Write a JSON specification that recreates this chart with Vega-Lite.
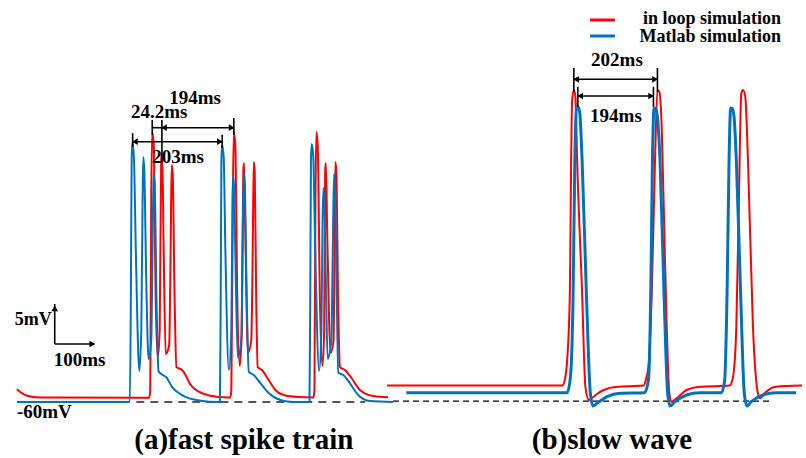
{
  "$schema": "https://vega.github.io/schema/vega-lite/v6.json",
  "width": 806,
  "height": 458,
  "padding": 0,
  "autosize": {"type": "fit", "contains": "padding"},
  "background": "white",
  "config": {
    "view": {"stroke": null},
    "text": {"font": "Liberation Serif", "fontWeight": "bold", "color": "black", "baseline": "middle"}
  },
  "datasets": {
    "a_red": [
      {"t":42.5,"v":-58.4},{"t":55,"v":-58.9},{"t":70,"v":-59.25},{"t":100,"v":-59.44},{"t":375,"v":-59.46},{"t":377.5,"v":-58.5},{"t":380,"v":-34.75},{"t":382.5,"v":-26.25},{"t":386.25,"v":-27.88},{"t":391.25,"v":-47.25},{"t":396.25,"v":-54.5},{"t":401.25,"v":-51},{"t":405,"v":-29.75},{"t":407.5,"v":-28.75},{"t":411.25,"v":-41},{"t":416.25,"v":-54},{"t":425,"v":-52.88},{"t":428.75,"v":-41},{"t":431.25,"v":-30.38},{"t":433.75,"v":-31.25},{"t":438.75,"v":-47.25},{"t":443.25,"v":-55.63},{"t":457.5,"v":-56},{"t":467.5,"v":-56.75},{"t":477.5,"v":-57.75},{"t":500,"v":-58.71},{"t":532.5,"v":-59.25},{"t":562.5,"v":-59.41},{"t":578.75,"v":-59.44},{"t":581.25,"v":-58.5},{"t":585,"v":-34.75},{"t":587.5,"v":-26.25},{"t":591.25,"v":-27.88},{"t":596.25,"v":-47.25},{"t":602.5,"v":-55.5},{"t":607.5,"v":-51},{"t":611.25,"v":-31},{"t":613.25,"v":-30.13},{"t":616.25,"v":-38.5},{"t":623.25,"v":-53.88},{"t":631.25,"v":-52.25},{"t":635,"v":-41},{"t":637.5,"v":-30},{"t":640,"v":-31.25},{"t":643.75,"v":-47.25},{"t":647.5,"v":-55.63},{"t":658.25,"v":-56},{"t":675,"v":-57.25},{"t":691.75,"v":-58.5},{"t":712.5,"v":-59.13},{"t":750,"v":-59.38},{"t":787.5,"v":-59.44},{"t":790,"v":-58.5},{"t":792.5,"v":-34.75},{"t":795,"v":-26.25},{"t":798.25,"v":-27.88},{"t":803.75,"v":-47.25},{"t":810,"v":-55.5},{"t":814.5,"v":-51},{"t":817,"v":-31},{"t":818.75,"v":-30.13},{"t":822,"v":-38.5},{"t":830.75,"v":-53.88},{"t":838.25,"v":-52.25},{"t":840.5,"v":-41},{"t":842.5,"v":-30},{"t":845,"v":-31.25},{"t":849.5,"v":-47.25},{"t":854.25,"v":-55.63},{"t":866.75,"v":-56},{"t":883.25,"v":-57},{"t":904.25,"v":-58.5},{"t":937.5,"v":-59.25},{"t":975,"v":-59.41}
    ],
    "a_blue": [
      {"t":42.5,"v":-60},{"t":326.25,"v":-60},{"t":328.75,"v":-47.25},{"t":330.75,"v":-29.75},{"t":332.5,"v":-27.63},{"t":336.25,"v":-29.13},{"t":341.25,"v":-41},{"t":350,"v":-56.13},{"t":355,"v":-51},{"t":358.25,"v":-34.75},{"t":360,"v":-29.38},{"t":362.5,"v":-31},{"t":367.5,"v":-44.75},{"t":373.25,"v":-54.63},{"t":380,"v":-52.25},{"t":383.75,"v":-38.5},{"t":386.25,"v":-31.38},{"t":388.75,"v":-32.88},{"t":393.25,"v":-47.25},{"t":398.25,"v":-56.13},{"t":405,"v":-56.5},{"t":417.5,"v":-56.88},{"t":432.5,"v":-58.13},{"t":457.5,"v":-59.13},{"t":500,"v":-59.81},{"t":550,"v":-60},{"t":552.5,"v":-60},{"t":554.5,"v":-47.25},{"t":556.25,"v":-29.75},{"t":558.25,"v":-27.88},{"t":562,"v":-29.38},{"t":566.25,"v":-41},{"t":575,"v":-56},{"t":581.25,"v":-51},{"t":584.25,"v":-34.75},{"t":585.75,"v":-31.63},{"t":588.25,"v":-33.5},{"t":592.5,"v":-44.75},{"t":597.5,"v":-54.5},{"t":606.25,"v":-52.25},{"t":610,"v":-38.5},{"t":612.5,"v":-31.38},{"t":615,"v":-32.88},{"t":620,"v":-47.25},{"t":625,"v":-56.2},{"t":637.5,"v":-56.63},{"t":654.25,"v":-57.63},{"t":675,"v":-58.88},{"t":704.25,"v":-59.75},{"t":737.5,"v":-60},{"t":777.5,"v":-60},{"t":779.5,"v":-47.25},{"t":781.25,"v":-29.75},{"t":783.25,"v":-27.75},{"t":787,"v":-29.25},{"t":792,"v":-41},{"t":801.75,"v":-56.13},{"t":807.5,"v":-51},{"t":810.5,"v":-37.25},{"t":812.5,"v":-33.25},{"t":815,"v":-34.75},{"t":818.75,"v":-44.75},{"t":823.25,"v":-54.63},{"t":832.5,"v":-52.25},{"t":836.75,"v":-38.5},{"t":839.25,"v":-31.5},{"t":841.75,"v":-33},{"t":846.25,"v":-47.25},{"t":850,"v":-56.34},{"t":862.5,"v":-56.63},{"t":879.25,"v":-57.66},{"t":900,"v":-59.13},{"t":929.25,"v":-59.88},{"t":987.5,"v":-60}
    ],
    "b_red": [
      {"t":972.5,"v":-57.95},{"t":1412.5,"v":-57.95},{"t":1420,"v":-57},{"t":1425,"v":-54.75},{"t":1431.75,"v":-46.38},{"t":1435,"v":-29.75},{"t":1437.5,"v":-22.25},{"t":1441.75,"v":-21},{"t":1445.75,"v":-21.84},{"t":1450,"v":-29.75},{"t":1462.5,"v":-46.38},{"t":1470.75,"v":-58.09},{"t":1479.25,"v":-59.75},{"t":1487.5,"v":-59.5},{"t":1500,"v":-59},{"t":1516.75,"v":-58.5},{"t":1550,"v":-58.09},{"t":1616.75,"v":-57.95},{"t":1622.5,"v":-57.25},{"t":1629.25,"v":-55.59},{"t":1637.5,"v":-46.38},{"t":1645.75,"v":-29.75},{"t":1651.75,"v":-21},{"t":1656.75,"v":-21.21},{"t":1662.5,"v":-25.59},{"t":1670.75,"v":-42.25},{"t":1681.75,"v":-58.91},{"t":1687.5,"v":-59.96},{"t":1700,"v":-59.54},{"t":1725,"v":-58.5},{"t":1758.25,"v":-58.09},{"t":1833.25,"v":-57.95},{"t":1841.75,"v":-56.84},{"t":1850,"v":-50.59},{"t":1856.75,"v":-33.88},{"t":1862.5,"v":-21.41},{"t":1866.75,"v":-21},{"t":1872.5,"v":-21.84},{"t":1879.25,"v":-29.75},{"t":1891.75,"v":-50.59},{"t":1904.25,"v":-58.91},{"t":1910,"v":-59.54},{"t":1920.75,"v":-58.91},{"t":1950,"v":-58.09},{"t":2015,"v":-57.95}
    ],
    "b_blue": [
      {"t":1020.75,"v":-58.84},{"t":1425,"v":-58.84},{"t":1433.25,"v":-56.84},{"t":1440,"v":-46.38},{"t":1444.25,"v":-29.75},{"t":1448.25,"v":-23.29},{"t":1452.5,"v":-23.09},{"t":1456.75,"v":-23.91},{"t":1462.5,"v":-29.75},{"t":1473.25,"v":-46.38},{"t":1483.25,"v":-58.91},{"t":1490,"v":-60.5},{"t":1500,"v":-60.16},{"t":1525,"v":-59.34},{"t":1558.25,"v":-58.91},{"t":1619.25,"v":-58.84},{"t":1629.25,"v":-57.25},{"t":1635,"v":-46.38},{"t":1639.25,"v":-29.75},{"t":1643.25,"v":-23.29},{"t":1647.5,"v":-23.29},{"t":1651.75,"v":-24.34},{"t":1658.25,"v":-29.75},{"t":1668.25,"v":-46.38},{"t":1677.5,"v":-58.91},{"t":1683.25,"v":-60.5},{"t":1695.75,"v":-59.96},{"t":1725,"v":-59.13},{"t":1758.25,"v":-58.84},{"t":1812.5,"v":-58.84},{"t":1820.75,"v":-57.25},{"t":1826.75,"v":-46.38},{"t":1831.75,"v":-29.75},{"t":1835.75,"v":-23.29},{"t":1840,"v":-23.29},{"t":1844.25,"v":-24.34},{"t":1850,"v":-29.75},{"t":1860.75,"v":-46.38},{"t":1870,"v":-58.91},{"t":1876.75,"v":-60.5},{"t":1887.5,"v":-59.96},{"t":1916.75,"v":-59.13},{"t":1950,"v":-58.84},{"t":2000,"v":-58.84}
    ],
    "hbars": [
      {"name":"24.2ms","t":382.5,"t2":406.75,"v":-25.71},
      {"name":"194ms a","t":406.75,"t2":587.5,"v":-25.71},
      {"name":"203ms","t":333.25,"t2":558.25,"v":-27.46},
      {"name":"202ms","t":1441.75,"t2":1651.75,"v":-19.66},
      {"name":"194ms b","t":1451.75,"t2":1641.75,"v":-21.75},
      {"name":"scale 100ms","t":137.5,"t2":237.5,"v":-52.75}
    ],
    "vbars": [
      {"t":382.5,"v":-24.75,"v2":-26.6},
      {"t":406.75,"v":-24.75,"v2":-30.1},
      {"t":587.5,"v":-24.5,"v2":-26.6},
      {"t":333.25,"v":-26.4,"v2":-28.1},
      {"t":558.25,"v":-26.6,"v2":-28.25},
      {"t":1441.75,"v":-18.25,"v2":-21.25},
      {"t":1651.75,"v":-18.25,"v2":-21.25},
      {"t":1451.75,"v":-20.6,"v2":-23.1},
      {"t":1641.75,"v":-20.6,"v2":-23.1},
      {"t":137.5,"v":-52.75,"v2":-47.75}
    ],
    "heads": [
      {"t":412,"v":-25.71,"dir":"left"},
      {"t":582,"v":-25.71,"dir":"right"},
      {"t":339,"v":-27.46,"dir":"left"},
      {"t":552.5,"v":-27.46,"dir":"right"},
      {"t":1447.5,"v":-19.66,"dir":"left"},
      {"t":1646,"v":-19.66,"dir":"right"},
      {"t":1457.5,"v":-21.75,"dir":"left"},
      {"t":1636,"v":-21.75,"dir":"right"},
      {"t":137.5,"v":-48.3,"dir":"up"},
      {"t":232,"v":-52.75,"dir":"right"}
    ],
    "labels": [
      {"label":"194ms","t":490,"v":-22.06,"kind":"annot"},
      {"label":"24.2ms","t":400,"v":-23.69,"kind":"annot"},
      {"label":"203ms","t":447.5,"v":-29.38,"kind":"annot"},
      {"label":"202ms","t":1550,"v":-17.19,"kind":"annot"},
      {"label":"194ms","t":1547.5,"v":-24.31,"kind":"annot"},
      {"label":"100ms","t":200,"v":-54.75,"kind":"annot"},
      {"label":"5mV","t":130,"v":-49.75,"kind":"right"},
      {"label":"in loop simulation","t":1962.5,"v":-12.1,"kind":"right"},
      {"label":"Matlab simulation","t":1962.5,"v":-14.4,"kind":"right"},
      {"label":"-60mV","t":42.5,"v":-61.25,"kind":"left"},
      {"label":"(a)fast spike train","t":612.5,"v":-64.75,"kind":"title"},
      {"label":"(b)slow wave","t":1537.5,"v":-64.75,"kind":"title"}
    ],
    "legend": [
      {"series":"in loop simulation","t":1482.5,"t2":1545,"v":-12.25},
      {"series":"Matlab simulation","t":1482.5,"t2":1545,"v":-14.25}
    ]
  },
  "encoding": {
    "x": {"field": "t", "type": "quantitative", "scale": {"domain": [0, 2015], "nice": false, "zero": false}, "axis": null},
    "y": {"field": "v", "type": "quantitative", "scale": {"domain": [-67, -9.75], "nice": false, "zero": false}, "axis": null}
  },
  "layer": [
    {
      "data": {"values": [{"t": 342.5, "t2": 917.5, "v": -60}]},
      "mark": {"type": "rule", "color": "#555555", "strokeWidth": 2, "strokeDash": [8, 6]},
      "encoding": {"x2": {"field": "t2"}}
    },
    {
      "data": {"values": [{"t": 987.5, "t2": 1932.5, "v": -59.9}]},
      "mark": {"type": "rule", "color": "black", "strokeWidth": 1.2, "strokeDash": [6, 4]},
      "encoding": {"x2": {"field": "t2"}}
    },
    {
      "data": {"name": "a_red"},
      "mark": {"type": "line", "strokeWidth": 2, "interpolate": "monotone"},
      "encoding": {"color": {"datum": "in loop simulation", "type": "nominal", "scale": {"domain": ["in loop simulation", "Matlab simulation"], "range": ["#FF0000", "#0072BD"]}, "legend": null}}
    },
    {
      "data": {"name": "a_blue"},
      "mark": {"type": "line", "strokeWidth": 2, "interpolate": "monotone"},
      "encoding": {"color": {"datum": "Matlab simulation", "type": "nominal", "scale": {"domain": ["in loop simulation", "Matlab simulation"], "range": ["#FF0000", "#0072BD"]}, "legend": null}}
    },
    {
      "data": {"name": "b_red"},
      "mark": {"type": "line", "strokeWidth": 2, "interpolate": "monotone"},
      "encoding": {"color": {"datum": "in loop simulation", "type": "nominal", "scale": {"domain": ["in loop simulation", "Matlab simulation"], "range": ["#FF0000", "#0072BD"]}, "legend": null}}
    },
    {
      "data": {"name": "b_blue"},
      "mark": {"type": "line", "strokeWidth": 3, "interpolate": "monotone"},
      "encoding": {"color": {"datum": "Matlab simulation", "type": "nominal", "scale": {"domain": ["in loop simulation", "Matlab simulation"], "range": ["#FF0000", "#0072BD"]}, "legend": null}}
    },
    {
      "data": {"name": "legend"},
      "mark": {"type": "rule", "strokeWidth": 3},
      "encoding": {
        "x2": {"field": "t2"},
        "color": {"field": "series", "type": "nominal", "scale": {"domain": ["in loop simulation", "Matlab simulation"], "range": ["#FF0000", "#0072BD"]}, "legend": null}
      }
    },
    {
      "data": {"name": "hbars"},
      "mark": {"type": "rule", "color": "black", "strokeWidth": 1.6},
      "encoding": {"x2": {"field": "t2"}}
    },
    {
      "data": {"name": "vbars"},
      "mark": {"type": "rule", "color": "black", "strokeWidth": 1.6},
      "encoding": {"y2": {"field": "v2"}}
    },
    {
      "data": {"name": "heads"},
      "transform": [{"filter": "datum.dir == 'right'"}],
      "mark": {"type": "point", "shape": "triangle-right", "filled": true, "color": "black", "opacity": 1, "size": 45}
    },
    {
      "data": {"name": "heads"},
      "transform": [{"filter": "datum.dir == 'left'"}],
      "mark": {"type": "point", "shape": "triangle-left", "filled": true, "color": "black", "opacity": 1, "size": 45}
    },
    {
      "data": {"name": "heads"},
      "transform": [{"filter": "datum.dir == 'up'"}],
      "mark": {"type": "point", "shape": "triangle-up", "filled": true, "color": "black", "opacity": 1, "size": 45}
    },
    {
      "data": {"name": "labels"},
      "transform": [{"filter": "datum.kind == 'annot'"}],
      "mark": {"type": "text", "fontSize": 19, "align": "center"},
      "encoding": {"text": {"field": "label"}}
    },
    {
      "data": {"name": "labels"},
      "transform": [{"filter": "datum.kind == 'right'"}],
      "mark": {"type": "text", "fontSize": 18, "align": "right"},
      "encoding": {"text": {"field": "label"}}
    },
    {
      "data": {"name": "labels"},
      "transform": [{"filter": "datum.kind == 'left'"}],
      "mark": {"type": "text", "fontSize": 19, "align": "left"},
      "encoding": {"text": {"field": "label"}}
    },
    {
      "data": {"name": "labels"},
      "transform": [{"filter": "datum.kind == 'title'"}],
      "mark": {"type": "text", "fontSize": 29, "align": "center"},
      "encoding": {"text": {"field": "label"}}
    }
  ]
}
